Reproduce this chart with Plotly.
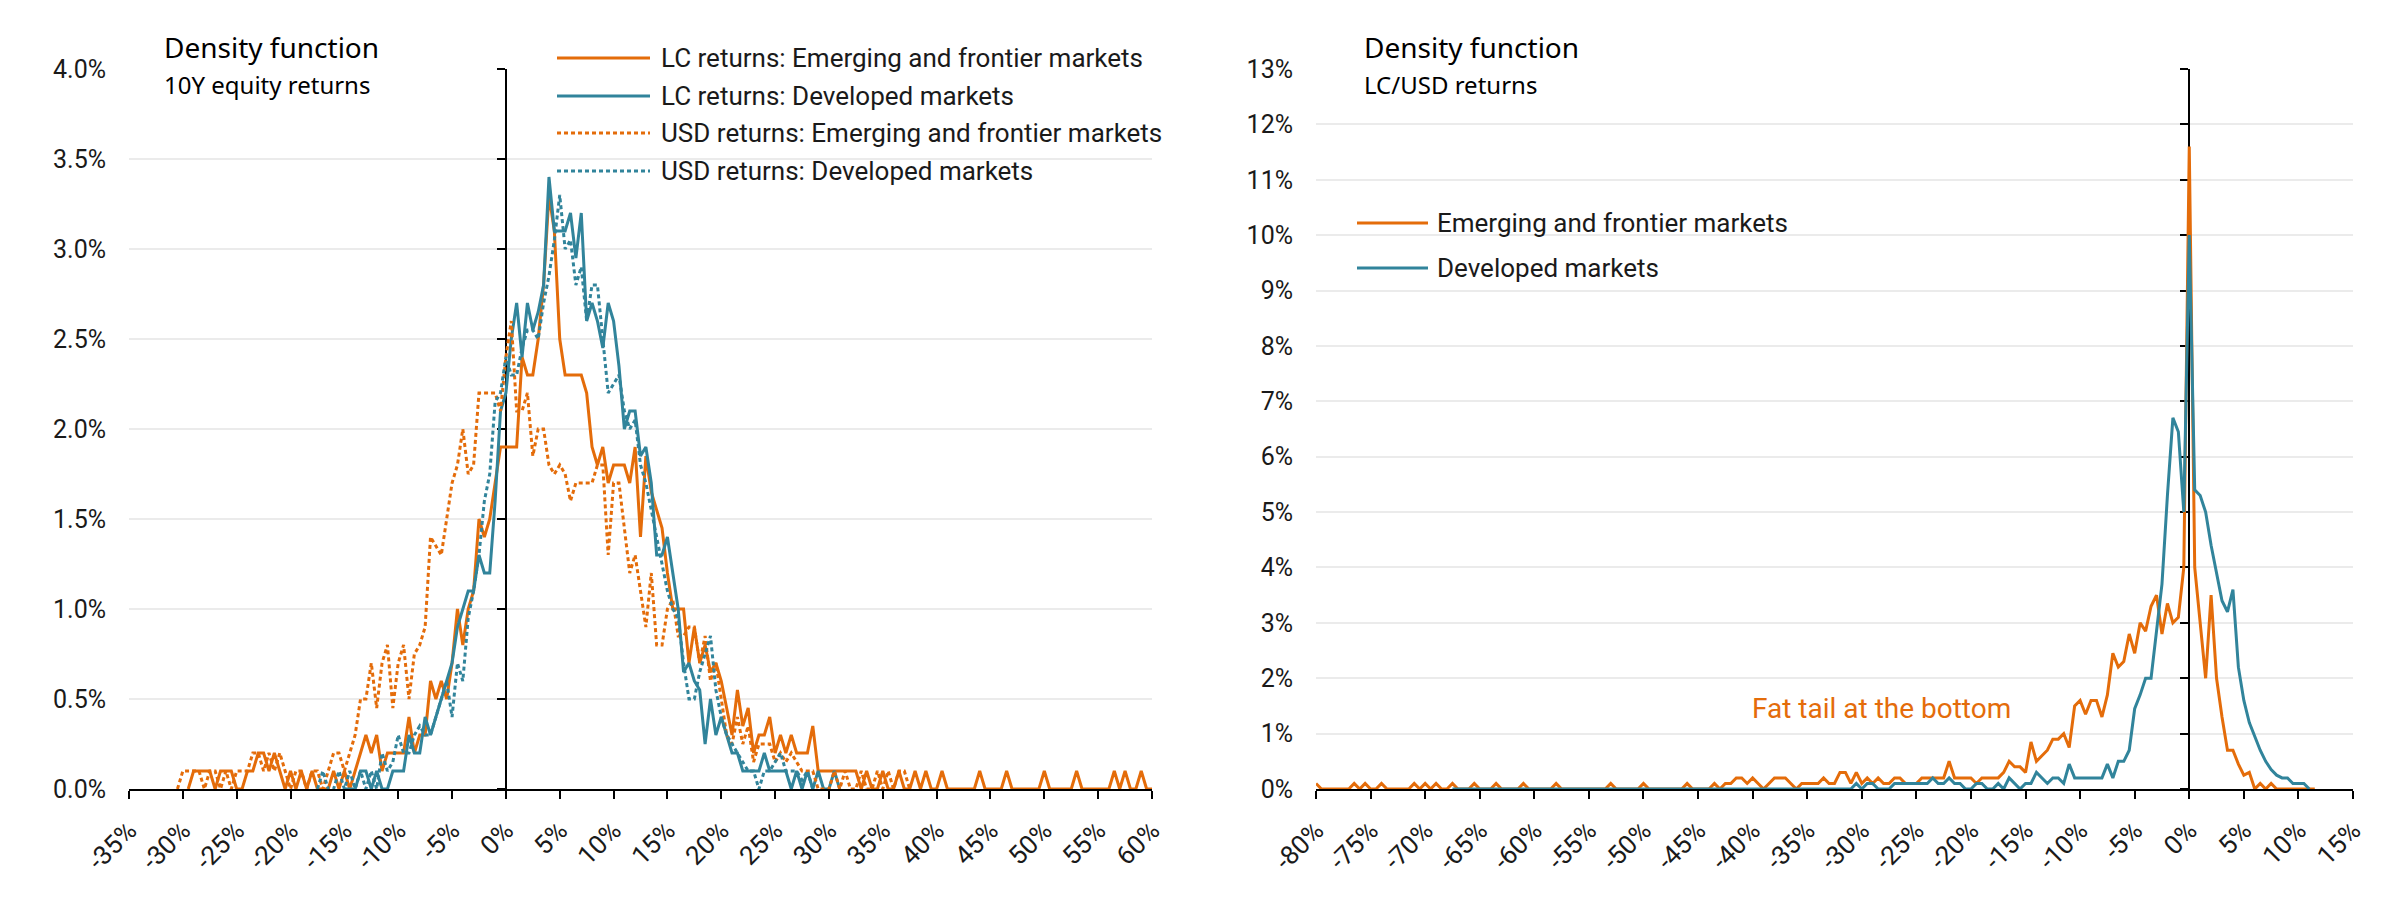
import plotly.graph_objects as go

ORANGE = "#E46C0A"
TEAL = "#31849B"
GRID = "#EBEBEB"
TXT = "#1a1a1a"
FONT = "Roboto"
TFONT = "Noto Sans"

# ---------------- Left chart: 10Y equity returns (0.5% bins, -30.5% .. 60%) ----------------
left_start, left_step, left_n = -30.5, 0.5, 182
left_x = [round(left_start + left_step * i, 1) for i in range(left_n)]

lc_em = [
    None, None, 0, 0.1, 0.1, 0.1, 0.1, 0, 0.1, 0.1,
    0.1, 0, 0, 0.1, 0.1, 0.2, 0.2, 0.1, 0.2, 0.1,
    0, 0.1, 0, 0.1, 0, 0.1, 0, 0, 0, 0.1,
    0, 0.1, 0, 0.1, 0.2, 0.3, 0.2, 0.3, 0.1, 0.2,
    0.2, 0.2, 0.2, 0.4, 0.2, 0.3, 0.3, 0.6, 0.5, 0.6,
    0.5, 0.7, 1.0, 0.8, 1.0, 1.1, 1.5, 1.4, 1.5, 1.7,
    1.9, 1.9, 1.9, 1.9, 2.4, 2.3, 2.3, 2.5, 2.8, 3.3,
    3.1, 2.5, 2.3, 2.3, 2.3, 2.3, 2.2, 1.9, 1.8, 1.9,
    1.7, 1.8, 1.8, 1.8, 1.7, 1.9, 1.4, 1.85, 1.65, 1.55,
    1.45, 1.2, 1.0, 1.0, 1.0, 0.7, 0.9, 0.7, 0.8, 0.65,
    0.7, 0.6, 0.45, 0.3, 0.55, 0.35, 0.45, 0.2, 0.3, 0.3,
    0.4, 0.2, 0.3, 0.2, 0.3, 0.2, 0.2, 0.2, 0.35, 0.1,
    0.1, 0.1, 0.1, 0.1, 0.1, 0.1, 0.1, 0, 0.1, 0,
    0, 0.1, 0, 0, 0.1, 0, 0, 0.1, 0, 0.1,
    0, 0, 0.1, 0, 0, 0, 0, 0, 0, 0.1,
    0, 0, 0, 0, 0.1, 0, 0, 0, 0, 0,
    0, 0.1, 0, 0, 0, 0, 0, 0.1, 0, 0,
    0, 0, 0, 0, 0.1, 0, 0.1, 0, 0, 0.1,
    0, 0,
]

lc_dm = [
    None, None, None, None, None, None, None, None, None, None,
    None, None, None, None, None, None, None, None, None, None,
    None, None, None, None, None, None, None, None, None, None,
    None, 0, 0, 0, 0.1, 0.1, 0, 0.1, 0, 0,
    0.1, 0.1, 0.1, 0.3, 0.2, 0.2, 0.4, 0.3, 0.4, 0.5,
    0.6, 0.7, 0.9, 1.0, 1.1, 1.1, 1.3, 1.2, 1.2, 1.6,
    2.1, 2.2, 2.5, 2.7, 2.4, 2.7, 2.55, 2.65, 2.8, 3.4,
    3.1, 3.1, 3.1, 3.2, 2.95, 3.2, 2.6, 2.7, 2.6, 2.45,
    2.7, 2.6, 2.35, 2.0, 2.1, 2.1, 1.85, 1.9, 1.7, 1.3,
    1.3, 1.4, 1.2, 1.0, 0.65, 0.7, 0.6, 0.55, 0.25, 0.5,
    0.3, 0.4, 0.3, 0.2, 0.2, 0.1, 0.1, 0.1, 0.1, 0.2,
    0.1, 0.1, 0.1, 0.1, 0, 0.1, 0, 0.1, 0, 0.1,
    0, 0, 0.1, 0, None, None, None, None, None, None,
    None, None, None, None, None, None, None, None, None, None,
    None, None, None, None, None, None, None, None, None, None,
    None, None, None, None, None, None, None, None, None, None,
    None, None, None, None, None, None, None, None, None, None,
    None, None, None, None, None, None, None, None, None, None,
    None, None,
]

usd_em = [
    0, 0.1, 0.1, 0.1, 0.1, 0, 0.1, 0.1, 0, 0.1,
    0, 0.1, 0.1, 0.1, 0.2, 0.2, 0.1, 0.2, 0.1, 0.2,
    0.1, 0, 0.1, 0.1, 0, 0.1, 0.1, 0, 0.1, 0.2,
    0.2, 0.1, 0.2, 0.3, 0.5, 0.5, 0.7, 0.45, 0.7, 0.8,
    0.45, 0.7, 0.8, 0.5, 0.75, 0.8, 0.9, 1.4, 1.35, 1.3,
    1.5, 1.7, 1.8, 2.0, 1.75, 1.8, 2.2, 2.2, 2.2, 2.2,
    2.1, 2.4, 2.6, 2.1, 2.1, 2.2, 1.85, 2.0, 2.0, 1.8,
    1.75, 1.8, 1.75, 1.6, 1.7, 1.7, 1.7, 1.7, 1.8, 1.8,
    1.3, 1.7, 1.7, 1.45, 1.2, 1.3, 1.1, 0.9, 1.2, 0.8,
    0.8, 1.0, 1.05, 0.85, 0.85, 0.9, 0.9, 0.7, 0.85, 0.6,
    0.7, 0.5, 0.3, 0.25, 0.4, 0.25, 0.35, 0.15, 0.25, 0.25,
    0.25, 0.15, 0.2, 0.15, 0.2, 0.15, 0.1, 0.1, 0.1, 0,
    0, 0, 0.1, 0, 0.1, 0, 0, 0.1, 0, 0,
    0.1, 0, 0.1, 0, 0.1, 0.1, 0, None, None, None,
    None, None, None, None, None, None, None, None, None, None,
    None, None, None, None, None, None, None, None, None, None,
    None, None, None, None, None, None, None, None, None, None,
    None, None, None, None, None, None, None, None, None, None,
    None, None,
]

usd_dm = [
    None, None, None, None, None, None, None, None, None, None,
    None, None, None, None, None, None, None, None, None, None,
    None, None, None, None, None, None, 0, 0.1, 0, 0,
    0.1, 0, 0.1, 0, 0.1, 0, 0.1, 0, 0.2, 0.1,
    0.15, 0.3, 0.2, 0.2, 0.3, 0.35, 0.3, 0.3, 0.4, 0.5,
    0.6, 0.4, 0.7, 0.6, 0.95, 1.1, 1.3, 1.6, 1.75, 2.15,
    2.2, 2.4, 2.3, 2.3, 2.45, 2.55, 2.55, 2.5, 2.7, 2.85,
    3.05, 3.3, 3.0, 3.05, 2.8, 2.9, 2.6, 2.8, 2.8, 2.5,
    2.2, 2.25, 2.3, 2.1, 2.0, 2.05, 1.8, 1.7, 1.55, 1.4,
    1.25, 1.1, 1.0, 0.95, 0.7, 0.5, 0.5, 0.65, 0.75, 0.85,
    0.55, 0.4, 0.3, 0.25, 0.2, 0.15, 0.1, 0.1, 0, 0.1,
    0.1, 0.15, 0.2, 0.1, 0.1, 0.1, 0.05, 0.1, 0, None,
    None, None, None, None, None, None, None, None, None, None,
    None, None, None, None, None, None, None, None, None, None,
    None, None, None, None, None, None, None, None, None, None,
    None, None, None, None, None, None, None, None, None, None,
    None, None, None, None, None, None, None, None, None, None,
    None, None, None, None, None, None, None, None, None, None,
    None, None,
]

left_names = [
    "LC returns: Emerging and frontier markets",
    "LC returns: Developed markets",
    "USD returns: Emerging and frontier markets",
    "USD returns: Developed markets",
]
left_values = [lc_em, lc_dm, usd_em, usd_dm]
left_colors = [ORANGE, TEAL, ORANGE, TEAL]
left_dashes = ["solid", "solid", "4px,3px", "4px,3px"]

# ---------------- Right chart: LC/USD returns (0.5% bins, -80% .. 12%) ----------------
right_start, right_step, right_n = -80.0, 0.5, 185
right_x = [round(right_start + right_step * i, 1) for i in range(right_n)]

fx_em = [
    0.1, 0, 0, 0, 0, 0, 0, 0.1, 0, 0.1,
    0, 0, 0.1, 0, 0, 0, 0, 0, 0.1, 0,
    0.1, 0, 0.1, 0, 0, 0.1, 0, 0, 0, 0.1,
    0, 0, 0, 0.1, 0, 0, 0, 0, 0.1, 0,
    0, 0, 0, 0, 0.1, 0, 0, 0, 0, 0,
    0, 0, 0, 0, 0.1, 0, 0, 0, 0, 0,
    0.1, 0, 0, 0, 0, 0, 0, 0, 0.1, 0,
    0, 0, 0, 0.1, 0, 0.1, 0.1, 0.2, 0.2, 0.1,
    0.2, 0.1, 0, 0.1, 0.2, 0.2, 0.2, 0.1, 0, 0.1,
    0.1, 0.1, 0.1, 0.2, 0.1, 0.1, 0.3, 0.3, 0.1, 0.3,
    0.1, 0.2, 0.1, 0.2, 0.1, 0.1, 0.2, 0.2, 0.1, 0.1,
    0.1, 0.2, 0.2, 0.2, 0.2, 0.2, 0.5, 0.2, 0.2, 0.2,
    0.2, 0.1, 0.2, 0.2, 0.2, 0.2, 0.3, 0.5, 0.4, 0.4,
    0.3, 0.85, 0.5, 0.6, 0.7, 0.9, 0.9, 1.0, 0.75, 1.5,
    1.6, 1.35, 1.6, 1.6, 1.3, 1.7, 2.45, 2.2, 2.3, 2.8,
    2.45, 3.0, 2.85, 3.3, 3.5, 2.8, 3.35, 3.0, 3.1, 4.0,
    11.6, 4.0, 3.0, 2.0, 3.5, 2.0, 1.3, 0.7, 0.7, 0.45,
    0.25, 0.3, 0, 0.1, 0, 0.1, 0, 0, 0, 0,
    0, 0, 0, 0, None,
]

fx_dm = [
    None, None, None, None, None, None, None, None, None, None,
    None, None, None, None, None, None, None, None, None, None,
    None, None, None, None, None, 0, 0, 0, 0, 0,
    0, 0, 0, 0, 0, 0, 0, 0, 0, 0,
    0, 0, 0, 0, 0, 0, 0, 0, 0, 0,
    0, 0, 0, 0, 0, 0, 0, 0, 0, 0,
    0, 0, 0, 0, 0, 0, 0, 0, 0, 0,
    0, 0, 0, 0, 0, 0, 0, 0, 0, 0,
    0, 0, 0, 0, 0, 0, 0, 0, 0, 0,
    0, 0, 0, 0, 0, 0, 0, 0, 0, 0.1,
    0, 0.1, 0.1, 0, 0, 0, 0.1, 0.1, 0.1, 0.1,
    0.1, 0.1, 0.1, 0.2, 0.1, 0.1, 0.2, 0.1, 0.1, 0,
    0, 0.1, 0.1, 0, 0, 0.1, 0, 0.2, 0.1, 0,
    0.1, 0.1, 0.3, 0.2, 0.1, 0.2, 0.2, 0.1, 0.45, 0.2,
    0.2, 0.2, 0.2, 0.2, 0.2, 0.45, 0.2, 0.5, 0.5, 0.7,
    1.45, 1.7, 2.0, 2.0, 2.8, 3.7, 5.3, 6.7, 6.45, 5.0,
    10.0, 5.4, 5.3, 5.0, 4.4, 3.9, 3.4, 3.2, 3.6, 2.2,
    1.6, 1.2, 0.95, 0.7, 0.5, 0.35, 0.25, 0.2, 0.2, 0.1,
    0.1, 0.1, 0, None, None,
]

right_names = ["Emerging and frontier markets", "Developed markets"]
right_values = [fx_em, fx_dm]
right_colors = [ORANGE, TEAL]

for s in left_values:
    assert len(s) == left_n
for s in right_values:
    assert len(s) == right_n

# axis settings
left_xrange = [-35, 60]
left_yrange = [0, 4]
right_xrange = [-80, 15]
right_yrange = [0, 13]
left_xticks = list(range(-35, 61, 5))
right_xticks = list(range(-80, 16, 5))

W, H = 2400, 900
dom_left = [129 / W, 1152 / W]
dom_right = [1316 / W, 2353 / W]
dom_y = [1 - 789 / H, 1 - 69 / H]


def zero_pos(dom, rng):
    return dom[0] + (0 - rng[0]) / (rng[1] - rng[0]) * (dom[1] - dom[0])


fig = go.Figure()

# invisible anchors so the base subplots exist
fig.add_trace(go.Scatter(x=[None], y=[None], xaxis="x", yaxis="y", showlegend=False, hoverinfo="skip"))
fig.add_trace(go.Scatter(x=[None], y=[None], xaxis="x2", yaxis="y2", showlegend=False, hoverinfo="skip"))

for name, vals, col, dash in zip(left_names, left_values, left_colors, left_dashes):
    fig.add_trace(go.Scatter(
        x=left_x, y=vals, name=name, mode="lines", xaxis="x", yaxis="y3",
        line=dict(color=col, width=3, dash=dash), showlegend=False,
    ))

for name, vals, col in zip(right_names, right_values, right_colors):
    fig.add_trace(go.Scatter(
        x=right_x, y=vals, name=name, mode="lines", xaxis="x2", yaxis="y4",
        line=dict(color=col, width=3), showlegend=False,
    ))

tickfont = dict(family=FONT, size=25, color=TXT)
xtickfont = dict(family=FONT, size=26, color=TXT)

xcommon = dict(
    showline=True, linecolor="black", linewidth=2, ticks="outside", ticklen=8,
    tickwidth=2, tickcolor="black", showgrid=False, zeroline=False, tickangle=-45,
    tickfont=xtickfont, layer="below traces", fixedrange=True, automargin=False,
    ticklabelstandoff=6,
)
ybase = dict(
    showline=False, ticks="", showgrid=True, gridcolor=GRID, gridwidth=2,
    zeroline=False, tickfont=tickfont, ticklabelstandoff=22, fixedrange=True,
    automargin=False,
)
yzero = dict(
    anchor="free", showline=True, linecolor="black", linewidth=2, ticks="outside",
    ticklen=8, tickwidth=2, tickcolor="black", showticklabels=False, showgrid=False,
    zeroline=False, layer="below traces", side="left", fixedrange=True,
    automargin=False,
)

fig.update_layout(
    width=W, height=H,
    margin=dict(l=0, r=0, t=0, b=0, autoexpand=False),
    paper_bgcolor="white", plot_bgcolor="white",
    showlegend=False,
    font=dict(family=FONT, color=TXT),
    xaxis=dict(domain=dom_left, range=left_xrange, anchor="y",
               tickvals=left_xticks, ticktext=[f"{v}%" for v in left_xticks], **xcommon),
    yaxis=dict(domain=dom_y, range=left_yrange, anchor="x", dtick=0.5,
               tickformat=".1f", ticksuffix="%", **ybase),
    yaxis3=dict(overlaying="y", range=left_yrange, dtick=0.5,
                position=zero_pos(dom_left, left_xrange), **yzero),
    xaxis2=dict(domain=dom_right, range=right_xrange, anchor="y2",
                tickvals=right_xticks, ticktext=[f"{v}%" for v in right_xticks], **xcommon),
    yaxis2=dict(domain=dom_y, range=right_yrange, anchor="x2", dtick=1,
                tickformat="d", ticksuffix="%", **ybase),
    yaxis4=dict(overlaying="y2", range=right_yrange, dtick=1,
                position=zero_pos(dom_right, right_xrange), **yzero),
)

annotations = []
shapes = []


def add_text(text, px, py, size, family=FONT, color=TXT):
    annotations.append(dict(
        text=text, x=px / W, y=1 - py / H, xref="paper", yref="paper",
        xanchor="left", yanchor="middle", showarrow=False,
        font=dict(family=family, size=size, color=color),
    ))


# titles
add_text("Density function", 162, 47, 28, TFONT, "#000000")
add_text("10Y equity returns", 162, 84, 24, TFONT, "#000000")
add_text("Density function", 1362, 47, 28, TFONT, "#000000")
add_text("LC/USD returns", 1362, 84, 24, TFONT, "#000000")

# left legend
left_rows = [58, 96, 133, 171]
for name, col, dash, ry in zip(left_names, left_colors, left_dashes, left_rows):
    shapes.append(dict(type="line", xref="paper", yref="paper",
                       x0=557 / W, x1=650 / W, y0=1 - ry / H, y1=1 - ry / H,
                       line=dict(color=col, width=3, dash=dash)))
    add_text(name, 659, ry, 26)

# right legend
right_rows = [223, 268]
for name, col, ry in zip(right_names, right_colors, right_rows):
    shapes.append(dict(type="line", xref="paper", yref="paper",
                       x0=1357 / W, x1=1428 / W, y0=1 - ry / H, y1=1 - ry / H,
                       line=dict(color=col, width=3)))
    add_text(name, 1435, ry, 26)

add_text("Fat tail at the bottom", 1750, 708, 28, FONT, ORANGE)

fig.update_layout(annotations=annotations, shapes=shapes)

fig.write_html(
    "out.html",
    config={"displayModeBar": False},
    post_script="document.body.style.margin='0';document.body.style.overflow='hidden';",
)
